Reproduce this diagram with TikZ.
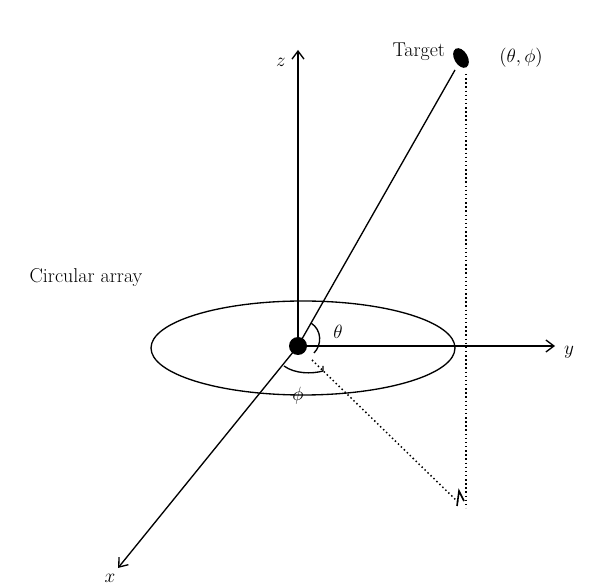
\documentclass[tikz,border=0pt]{standalone}
\usetikzlibrary{arrows.meta,shapes.geometric}
\begin{document}
\begin{tikzpicture}[x=0.75pt,y=-0.75pt,line width=1pt,
  axis/.style={-{Straight Barb[length=6pt,width=9pt]}},
  lbl/.style={font=\fontsize{15}{18}\selectfont,inner sep=1pt},
  dots/.style={dotted,line width=1.1pt}]
\useasboundingbox (0,0) rectangle (600,584);
\coordinate (O) at (298,346);
\coordinate (Zt) at (298,50);
\coordinate (Yt) at (555,346);
\coordinate (Xt) at (118,568);
\coordinate (P) at (466,508);
\coordinate (Ptop) at (466,74);
\draw (303,348) ellipse [x radius=152, y radius=47];
\draw[axis] (O) -- (Zt);
\draw[axis] (O) -- (Yt);
\draw[axis] (O) -- (Xt);
\node[fill,ellipse,minimum width=16pt, minimum height=10pt, inner sep=0pt, rotate=-60] (T) at (461,58) {};
\draw (O) -- (455,70);
\draw[dots] (Ptop) -- (P);
\draw[dots] (312,360) -- (458,502);
\draw[line width=1.2pt] (457,506) -- (459,491) -- (464,501);
\fill (O) circle (9);
\draw (311,323) .. controls (322,330) and (322,345) .. (314,353);
\draw (284,366) .. controls (295,374) and (312,374) .. (323,371) -- (323,366);
\node[lbl] (zl) at (281,62) {$z$};
\node[lbl] (yl) at (569,352) {$y$};
\node[lbl] (xl) at (110,578) {$x$};
\node[lbl] (th) at (338,332) {$\theta$};
\node[lbl] (ph) at (298,396) {$\phi$};
\node[lbl,anchor=east] (tg) at (447,52) {Target};
\node[lbl] (tp) at (521,58) {$(\theta,\phi)$};
\node[lbl] (ca) at (86,278) {Circular array};
\end{tikzpicture}
\end{document}
